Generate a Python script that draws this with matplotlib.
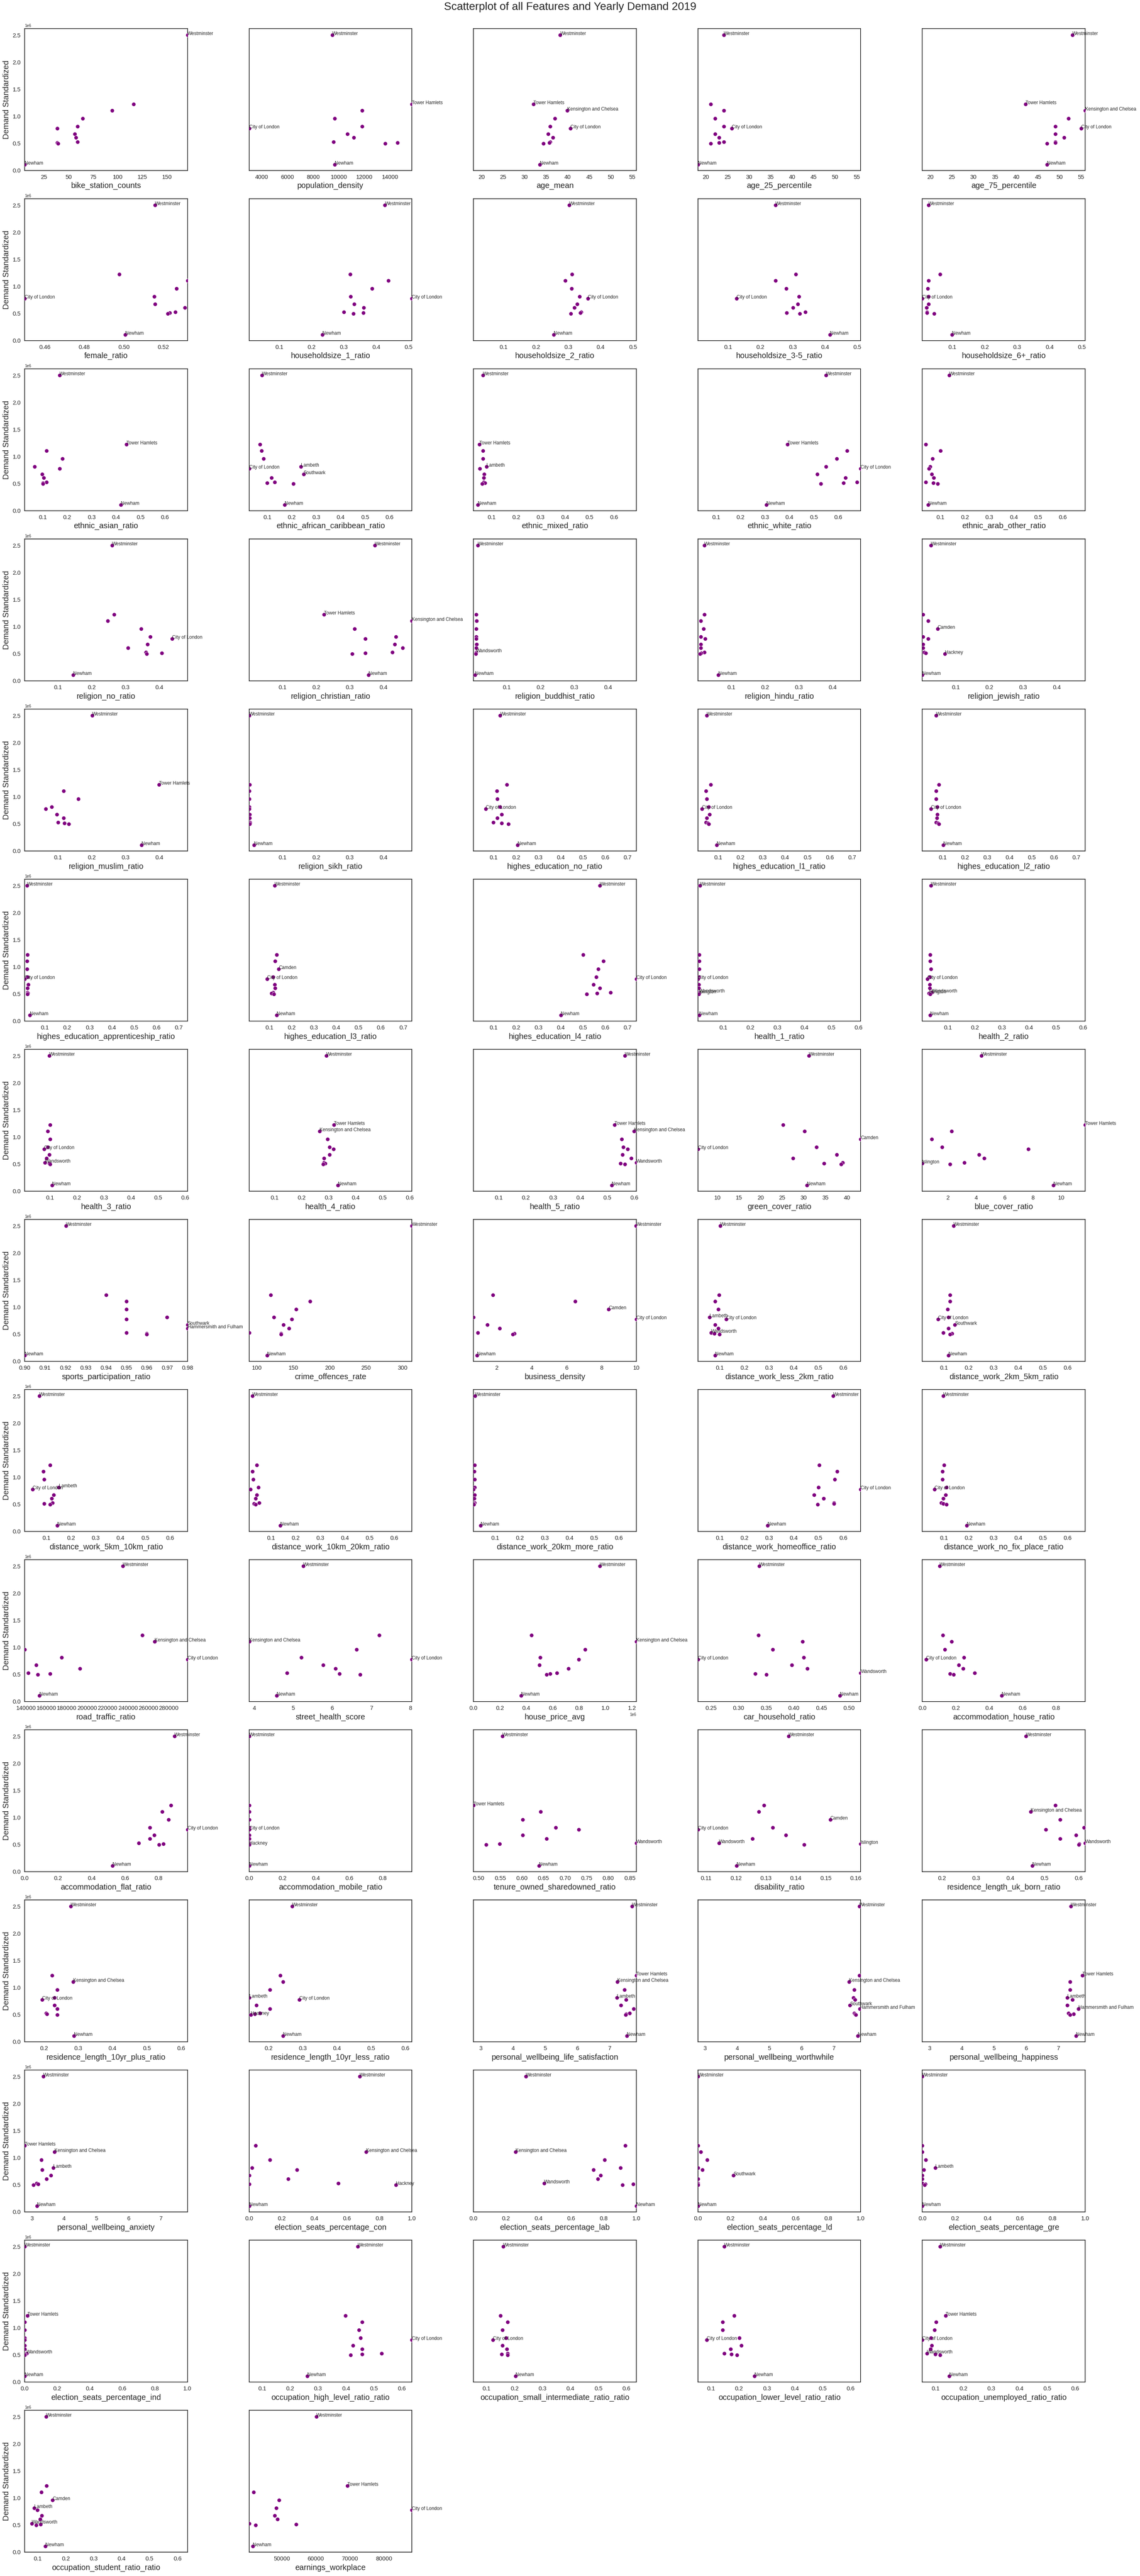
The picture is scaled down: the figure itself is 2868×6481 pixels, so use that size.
import matplotlib
matplotlib.use("Agg")
import matplotlib.pyplot as plt
import seaborn as sns
from matplotlib.ticker import MaxNLocator, MultipleLocator

# ---------------- data ----------------
boroughs = ["Westminster", "Tower Hamlets", "Kensington and Chelsea", "Camden", "Lambeth",
            "City of London", "Southwark", "Hammersmith and Fulham", "Wandsworth",
            "Islington", "Hackney", "Newham"]
demand = [2.51e6, 1.224e6, 1.113e6, 0.965e6, 0.817e6, 0.780e6, 0.674e6, 0.607e6,
          0.528e6, 0.513e6, 0.499e6, 0.111e6]

bike_station_counts = [170.7, 116.0, 94.1, 64.2, 59.0, 38.3, 56.2, 57.4, 59.0, 38.3, 39.2, 5.25]
population_density = [9508, 15678, 11801, 9674, 11801, 3031, 10667, 11163, 9579, 14567, 13598, 9697]
age_mean = [38.28, 32.05, 39.94, 37.03, 35.89, 40.66, 35.47, 36.61, 35.89, 35.70, 34.33, 33.5]
age_25_percentile = [24.17, 21.15, 24.17, 22.08, 24.17, 26.04, 22.08, 23.02, 24.17, 23.02, 21.15, 18.13]
age_75_percentile = [53.02, 42.08, 55.94, 52.08, 49.06, 55.0, 49.06, 51.04, 49.06, 49.06, 47.08, 47.08]
female_ratio = [0.5159, 0.4977, 0.5323, 0.5268, 0.5154, 0.4497, 0.5159, 0.5310, 0.5261, 0.5233, 0.5222, 0.5008]
householdsize_1_ratio = [0.4271, 0.3198, 0.4374, 0.3875, 0.3207, 0.5104, 0.3320, 0.3612, 0.300, 0.3602, 0.3292, 0.2341]
householdsize_2_ratio = [0.3028, 0.311, 0.2903, 0.3097, 0.3345, 0.3607, 0.3276, 0.3193, 0.340, 0.3372, 0.3083, 0.2545]
householdsize_3_5_ratio = [0.2466, 0.3089, 0.2466, 0.2798, 0.3199, 0.1263, 0.3158, 0.3006, 0.3393, 0.2812, 0.3213, 0.4154]
householdsize_6_ratio = [0.0264, 0.0611, 0.0264, 0.0236, 0.0264, 0.0068, 0.0264, 0.0194, 0.0208, 0.0215, 0.043, 0.0986]
ethnic_asian_ratio = [0.1685, 0.442, 0.115, 0.180, 0.067, 0.1685, 0.097, 0.103, 0.115, 0.100, 0.100, 0.4185]
ethnic_african_caribbean_ratio = [0.079, 0.070, 0.076, 0.085, 0.237, 0.0256, 0.249, 0.118, 0.130, 0.100, 0.207, 0.171]
ethnic_mixed_ratio = [0.064, 0.049, 0.064, 0.064, 0.079, 0.052, 0.070, 0.067, 0.067, 0.073, 0.061, 0.043]
ethnic_white_ratio = [0.549, 0.392, 0.636, 0.594, 0.549, 0.692, 0.514, 0.630, 0.677, 0.621, 0.529, 0.305]
ethnic_arab_other_ratio = [0.136, 0.040, 0.100, 0.067, 0.058, 0.052, 0.064, 0.073, 0.040, 0.070, 0.088, 0.049]
religion_no_ratio = [0.260, 0.266, 0.247, 0.346, 0.374, 0.438, 0.365, 0.307, 0.361, 0.408, 0.363, 0.145]
religion_christian_ratio = [0.374, 0.223, 0.484, 0.314, 0.437, 0.346, 0.433, 0.456, 0.426, 0.346, 0.307, 0.355]
religion_buddhist_ratio = [0.014, 0.009, 0.010, 0.009, 0.009, 0.009, 0.010, 0.009, 0.009, 0.008, 0.008, 0.005]
religion_hindu_ratio = [0.020, 0.020, 0.009, 0.018, 0.009, 0.022, 0.009, 0.009, 0.020, 0.011, 0.007, 0.061]
religion_jewish_ratio = [0.027, 0.003, 0.018, 0.046, 0.003, 0.018, 0.003, 0.003, 0.007, 0.011, 0.068, 0.001]
religion_muslim_ratio = [0.2015, 0.400, 0.117, 0.160, 0.081, 0.063, 0.096, 0.117, 0.100, 0.119, 0.132, 0.348]
religion_sikh_ratio = [0.001, 0.003, 0.002, 0.002, 0.002, 0.001, 0.003, 0.003, 0.004, 0.004, 0.003, 0.016]
highes_education_no_ratio = [0.129, 0.159, 0.113, 0.116, 0.129, 0.064, 0.136, 0.116, 0.097, 0.136, 0.165, 0.207]
highes_education_l1_ratio = [0.048, 0.067, 0.045, 0.048, 0.058, 0.028, 0.061, 0.048, 0.045, 0.054, 0.058, 0.093]
highes_education_l2_ratio = [0.071, 0.084, 0.071, 0.071, 0.077, 0.048, 0.077, 0.074, 0.071, 0.080, 0.084, 0.103]
highes_education_apprenticeship_ratio = [0.019, 0.022, 0.019, 0.019, 0.022, 0.009, 0.025, 0.022, 0.022, 0.023, 0.021, 0.032]
highes_education_l3_ratio = [0.123, 0.133, 0.126, 0.142, 0.116, 0.090, 0.123, 0.126, 0.116, 0.110, 0.120, 0.133]
highes_education_l4_ratio = [0.576, 0.501, 0.592, 0.569, 0.559, 0.739, 0.546, 0.576, 0.624, 0.563, 0.517, 0.400]
health_1_ratio = [0.014, 0.011, 0.011, 0.011, 0.009, 0.006, 0.009, 0.009, 0.011, 0.011, 0.009, 0.011]
health_2_ratio = [0.038, 0.035, 0.035, 0.038, 0.033, 0.025, 0.033, 0.033, 0.041, 0.030, 0.035, 0.035]
health_3_ratio = [0.097, 0.100, 0.092, 0.100, 0.092, 0.078, 0.097, 0.087, 0.081, 0.097, 0.100, 0.108]
health_4_ratio = [0.291, 0.320, 0.267, 0.296, 0.304, 0.318, 0.304, 0.283, 0.283, 0.288, 0.280, 0.334]
health_5_ratio = [0.565, 0.527, 0.600, 0.554, 0.560, 0.576, 0.557, 0.589, 0.608, 0.549, 0.565, 0.517]
green_cover_ratio = [31.2, 25.2, 30.2, 43.2, 32.9, 5.45, 37.6, 27.5, 39.0, 34.7, 38.6, 30.7]
blue_cover_ratio = [4.36, 11.69, 2.26, 0.87, 1.59, 7.69, 4.21, 4.56, 3.18, 0.205, 2.15, 9.44]
sports_participation_ratio = [0.9204, 0.940, 0.950, 0.950, 0.970, 0.950, 0.980, 0.980, 0.950, 0.960, 0.960, 0.900]
crime_offences_rate = [313, 119, 173, 154, 123, 148, 136, 144, 89, 133, 133, 114]
business_density = [9.98, 1.79, 6.5, 8.42, 0.667, 10.0, 1.46, 2.17, 0.92, 3.0, 2.92, 0.875]
distance_work_less_2km_ratio = [0.103, 0.097, 0.082, 0.094, 0.059, 0.126, 0.082, 0.094, 0.065, 0.079, 0.100, 0.082]
distance_work_2km_5km_ratio = [0.138, 0.124, 0.124, 0.115, 0.118, 0.076, 0.144, 0.118, 0.097, 0.132, 0.124, 0.118]
distance_work_5km_10km_ratio = [0.071, 0.115, 0.088, 0.091, 0.150, 0.044, 0.129, 0.121, 0.124, 0.091, 0.115, 0.144]
distance_work_10km_20km_ratio = [0.026, 0.044, 0.026, 0.029, 0.050, 0.018, 0.044, 0.038, 0.053, 0.032, 0.038, 0.138]
distance_work_20km_more_ratio = [0.018, 0.016, 0.015, 0.016, 0.017, 0.012, 0.016, 0.015, 0.016, 0.014, 0.014, 0.041]
distance_work_homeoffice_ratio = [0.559, 0.503, 0.576, 0.565, 0.500, 0.671, 0.482, 0.521, 0.562, 0.562, 0.497, 0.294]
distance_work_no_fix_place_ratio = [0.097, 0.100, 0.094, 0.094, 0.109, 0.062, 0.106, 0.097, 0.088, 0.097, 0.109, 0.191]
road_traffic_ratio = [235000, 254000, 266400, 138600, 175000, 298500, 150000, 192800, 142100, 163600, 151400, 152900]
street_health_score = [5.26, 7.20, 3.87, 6.62, 5.21, 8.04, 5.77, 6.08, 4.84, 6.19, 6.71, 4.58]
house_price_avg = [957000, 438000, 1233000, 846000, 504000, 797000, 498000, 719000, 631000, 581000, 554000, 360000]
car_household_ratio = [0.337, 0.3355, 0.4158, 0.362, 0.418, 0.2263, 0.396, 0.424, 0.521, 0.330, 0.350, 0.483]
accommodation_house_ratio = [0.104, 0.122, 0.174, 0.135, 0.248, 0.022, 0.217, 0.243, 0.313, 0.165, 0.187, 0.474]
accommodation_flat_ratio = [0.896, 0.874, 0.822, 0.861, 0.748, 0.974, 0.774, 0.748, 0.683, 0.830, 0.804, 0.526]
accommodation_mobile_ratio = [0.0003, 0.0, 0.0002, 0.0001, 0.0002, 0.0, 0.0003, 0.0002, 0.0008, 0.0002, 0.0006, 0.0002]
tenure_owned_sharedowned_ratio = [0.555, 0.488, 0.643, 0.602, 0.678, 0.732, 0.602, 0.657, 0.865, 0.549, 0.517, 0.640]
disability_ratio = [0.1376, 0.1294, 0.1277, 0.1515, 0.1323, 0.1073, 0.1367, 0.1255, 0.1144, 0.1617, 0.1428, 0.1202]
residence_length_uk_born_ratio = [0.446, 0.532, 0.460, 0.546, 0.615, 0.504, 0.592, 0.546, 0.619, 0.602, 0.600, 0.464]
residence_length_10yr_plus_ratio = [0.278, 0.223, 0.285, 0.238, 0.230, 0.194, 0.230, 0.238, 0.206, 0.208, 0.238, 0.287]
residence_length_10yr_less_ratio = [0.269, 0.234, 0.242, 0.204, 0.143, 0.290, 0.164, 0.204, 0.175, 0.160, 0.148, 0.242]
personal_wellbeing_life_satisfaction = [7.70, 7.836, 7.25, 7.47, 7.23, 7.52, 7.36, 7.75, 7.63, 7.52, 7.50, 7.54]
personal_wellbeing_worthwhile = [7.79, 7.79, 7.47, 7.63, 7.61, 7.66, 7.50, 7.81, 7.63, 7.66, 7.68, 7.75]
personal_wellbeing_happiness = [7.39, 7.75, 7.37, 7.37, 7.28, 7.44, 7.28, 7.62, 7.32, 7.48, 7.37, 7.55]
personal_wellbeing_anxiety = [3.36, 2.774, 3.70, 3.29, 3.66, 3.32, 3.59, 3.45, 3.14, 3.20, 3.05, 3.16]
election_seats_percentage_con = [0.679, 0.040, 0.719, 0.129, 0.018, 0.295, 0.0, 0.241, 0.549, 0.0, 0.902, 0.0]
election_seats_percentage_lab = [0.321, 0.933, 0.259, 0.804, 0.902, 0.737, 0.781, 0.763, 0.433, 0.982, 0.915, 1.0]
election_seats_percentage_ld = [0.0, 0.0, 0.018, 0.058, 0.0, 0.027, 0.219, 0.0, 0.0, 0.0, 0.0, 0.0]
election_seats_percentage_gre = [0.0, 0.0, 0.0, 0.022, 0.080, 0.009, 0.0, 0.0, 0.0, 0.018, 0.013, 0.0]
election_seats_percentage_ind = [0.0, 0.018, 0.0, 0.0, 0.0, 0.0, 0.0, 0.0, 0.013, 0.002, 0.0, 0.0]
occupation_high_level_ratio_ratio = [0.442, 0.398, 0.458, 0.447, 0.452, 0.636, 0.425, 0.458, 0.527, 0.458, 0.417, 0.261]
occupation_small_intermediate_ratio_ratio = [0.160, 0.149, 0.175, 0.157, 0.170, 0.123, 0.157, 0.173, 0.175, 0.154, 0.175, 0.204]
occupation_lower_level_ratio_ratio = [0.147, 0.183, 0.141, 0.141, 0.201, 0.084, 0.209, 0.170, 0.147, 0.173, 0.193, 0.255]
occupation_unemployed_ratio_ratio = [0.116, 0.136, 0.103, 0.097, 0.084, 0.053, 0.087, 0.082, 0.069, 0.100, 0.116, 0.149]
occupation_student_ratio_ratio = [0.130, 0.131, 0.113, 0.153, 0.087, 0.099, 0.114, 0.108, 0.078, 0.110, 0.095, 0.127]
earnings_workplace = [60137, 69313, 41677, 49253, 48400, 88200, 47866, 48720, 40397, 54268, 42318, 41464]

W, TH, KC, CAM, LAM, CITY, SOU, HF, WAN, ISL, HAC, NEW = boroughs

# (x-axis label, values, x-range group, extra labelled boroughs)
features = [
    ("bike_station_counts", bike_station_counts, "bike", []),
    ("population_density", population_density, "pop", [TH, CITY]),
    ("age_mean", age_mean, "age", [TH, KC, CITY]),
    ("age_25_percentile", age_25_percentile, "age", [CITY]),
    ("age_75_percentile", age_75_percentile, "age", [TH, KC, CITY]),
    ("female_ratio", female_ratio, "female", [CITY]),
    ("householdsize_1_ratio", householdsize_1_ratio, "hh", [CITY]),
    ("householdsize_2_ratio", householdsize_2_ratio, "hh", [CITY]),
    ("householdsize_3-5_ratio", householdsize_3_5_ratio, "hh", [CITY]),
    ("householdsize_6+_ratio", householdsize_6_ratio, "hh", [CITY]),
    ("ethnic_asian_ratio", ethnic_asian_ratio, "eth", [TH]),
    ("ethnic_african_caribbean_ratio", ethnic_african_caribbean_ratio, "eth", [CITY, LAM, SOU]),
    ("ethnic_mixed_ratio", ethnic_mixed_ratio, "eth", [TH, LAM]),
    ("ethnic_white_ratio", ethnic_white_ratio, "eth", [TH, CITY]),
    ("ethnic_arab_other_ratio", ethnic_arab_other_ratio, "eth", []),
    ("religion_no_ratio", religion_no_ratio, "rel", [CITY]),
    ("religion_christian_ratio", religion_christian_ratio, "rel", [TH, KC]),
    ("religion_buddhist_ratio", religion_buddhist_ratio, "rel", [WAN]),
    ("religion_hindu_ratio", religion_hindu_ratio, "rel", []),
    ("religion_jewish_ratio", religion_jewish_ratio, "rel", [CAM, HAC]),
    ("religion_muslim_ratio", religion_muslim_ratio, "rel", [TH]),
    ("religion_sikh_ratio", religion_sikh_ratio, "rel", []),
    ("highes_education_no_ratio", highes_education_no_ratio, "edu", [CITY]),
    ("highes_education_l1_ratio", highes_education_l1_ratio, "edu", [CITY]),
    ("highes_education_l2_ratio", highes_education_l2_ratio, "edu", [CITY]),
    ("highes_education_apprenticeship_ratio", highes_education_apprenticeship_ratio, "edu", [CITY]),
    ("highes_education_l3_ratio", highes_education_l3_ratio, "edu", [CAM, CITY]),
    ("highes_education_l4_ratio", highes_education_l4_ratio, "edu", [CITY]),
    ("health_1_ratio", health_1_ratio, "health", [CITY, WAN, ISL]),
    ("health_2_ratio", health_2_ratio, "health", [CITY, WAN, ISL]),
    ("health_3_ratio", health_3_ratio, "health", [CITY, WAN]),
    ("health_4_ratio", health_4_ratio, "health", [TH, KC]),
    ("health_5_ratio", health_5_ratio, "health", [TH, KC, WAN]),
    ("green_cover_ratio", green_cover_ratio, "green", [CITY, CAM]),
    ("blue_cover_ratio", blue_cover_ratio, "blue", [TH, ISL]),
    ("sports_participation_ratio", sports_participation_ratio, "sports", [SOU, HF]),
    ("crime_offences_rate", crime_offences_rate, "crime", []),
    ("business_density", business_density, "business", [CAM, CITY]),
    ("distance_work_less_2km_ratio", distance_work_less_2km_ratio, "dist", [LAM, CITY, WAN]),
    ("distance_work_2km_5km_ratio", distance_work_2km_5km_ratio, "dist", [CITY, SOU]),
    ("distance_work_5km_10km_ratio", distance_work_5km_10km_ratio, "dist", [CITY, LAM]),
    ("distance_work_10km_20km_ratio", distance_work_10km_20km_ratio, "dist", []),
    ("distance_work_20km_more_ratio", distance_work_20km_more_ratio, "dist", []),
    ("distance_work_homeoffice_ratio", distance_work_homeoffice_ratio, "dist", [CITY]),
    ("distance_work_no_fix_place_ratio", distance_work_no_fix_place_ratio, "dist", [CITY]),
    ("road_traffic_ratio", road_traffic_ratio, "road", [KC, CITY]),
    ("street_health_score", street_health_score, "street", [KC, CITY]),
    ("house_price_avg", house_price_avg, "house", [KC]),
    ("car_household_ratio", car_household_ratio, "car", [CITY, WAN]),
    ("accommodation_house_ratio", accommodation_house_ratio, "acc", [CITY]),
    ("accommodation_flat_ratio", accommodation_flat_ratio, "acc", [CITY]),
    ("accommodation_mobile_ratio", accommodation_mobile_ratio, "acc", [CITY, HAC]),
    ("tenure_owned_sharedowned_ratio", tenure_owned_sharedowned_ratio, "tenure", [TH, WAN]),
    ("disability_ratio", disability_ratio, "disab", [CITY, CAM, WAN, ISL]),
    ("residence_length_uk_born_ratio", residence_length_uk_born_ratio, "res", [KC, WAN]),
    ("residence_length_10yr_plus_ratio", residence_length_10yr_plus_ratio, "res", [KC, CITY]),
    ("residence_length_10yr_less_ratio", residence_length_10yr_less_ratio, "res", [LAM, CITY, HAC]),
    ("personal_wellbeing_life_satisfaction", personal_wellbeing_life_satisfaction, "well", [TH, KC, LAM]),
    ("personal_wellbeing_worthwhile", personal_wellbeing_worthwhile, "well", [KC, SOU, HF]),
    ("personal_wellbeing_happiness", personal_wellbeing_happiness, "well", [TH, LAM, HF]),
    ("personal_wellbeing_anxiety", personal_wellbeing_anxiety, "well", [TH, KC, LAM]),
    ("election_seats_percentage_con", election_seats_percentage_con, "elec", [KC, HAC]),
    ("election_seats_percentage_lab", election_seats_percentage_lab, "elec", [KC, WAN]),
    ("election_seats_percentage_ld", election_seats_percentage_ld, "elec", [SOU]),
    ("election_seats_percentage_gre", election_seats_percentage_gre, "elec", [LAM]),
    ("election_seats_percentage_ind", election_seats_percentage_ind, "elec", [TH, WAN]),
    ("occupation_high_level_ratio_ratio", occupation_high_level_ratio_ratio, "occ", [CITY]),
    ("occupation_small_intermediate_ratio_ratio", occupation_small_intermediate_ratio_ratio, "occ", [CITY]),
    ("occupation_lower_level_ratio_ratio", occupation_lower_level_ratio_ratio, "occ", [CITY]),
    ("occupation_unemployed_ratio_ratio", occupation_unemployed_ratio_ratio, "occ", [TH, CITY, WAN]),
    ("occupation_student_ratio_ratio", occupation_student_ratio_ratio, "occ", [CAM, LAM, WAN]),
    ("earnings_workplace", earnings_workplace, "earn", [TH, CITY]),
]
always_labelled = [W, NEW]
zero_left_groups = ["house"]
title = "Scatterplot of all Features and Yearly Demand 2019"
ylabel = "Demand Standardized"

# ---------------- style ----------------
sns.set_style("white")
plt.rcParams["font.family"] = ["Liberation Sans", "DejaVu Sans"]
plt.rcParams["text.color"] = ".15"
plt.rcParams["axes.labelcolor"] = ".15"
plt.rcParams["xtick.color"] = ".15"
plt.rcParams["ytick.color"] = ".15"
plt.rcParams["axes.edgecolor"] = ".15"
plt.rcParams["axes.linewidth"] = 1.25

# group ranges
group_lims = {}
for name, vals, grp, _ in features:
    lo, hi = group_lims.get(grp, (min(vals), max(vals)))
    group_lims[grp] = (min(lo, min(vals)), max(hi, max(vals)))
for g in zero_left_groups:
    group_lims[g] = (0, group_lims[g][1])

nrows, ncols = 15, 5
fig, axes = plt.subplots(nrows, ncols, figsize=(28.68, 64.81), dpi=100, sharey=True)
fig.subplots_adjust(left=0.0216, right=0.9519, top=0.98889, bottom=0.00926,
                    wspace=0.378, hspace=0.199)

for i, (name, vals, grp, extra) in enumerate(features):
    ax = axes.flat[i]
    ax.scatter(vals, demand, s=52, color="purple", edgecolor="white", linewidth=0.5, zorder=3)
    show = set(always_labelled) | set(extra)
    for b, xv, yv in zip(boroughs, vals, demand):
        if b in show:
            ax.text(xv, yv, b, fontsize=8.5, color=".15", zorder=4)
    ax.set_xlim(*group_lims[grp])
    ax.xaxis.set_major_locator(MaxNLocator(nbins=8, steps=[1, 2, 2.5, 5, 10]))
    ax.set_xlabel(name, fontsize=14.3)
    ax.tick_params(axis="both", labelsize=10.6, length=0, pad=7)
    ax.xaxis.get_offset_text().set_fontsize(7)
    ax.yaxis.get_offset_text().set_fontsize(7)
    for sp in ax.spines.values():
        sp.set_visible(True)

axes[0, 0].set_ylim(0, 2.624e6)
axes[0, 0].yaxis.set_major_locator(MultipleLocator(0.5e6))
for r in range(nrows):
    axes[r, 0].set_ylabel(ylabel, fontsize=14.3)

for ax in axes.flat[len(features):]:
    ax.remove()

fig.suptitle(title, fontsize=20, y=0.99722, va="center", color=".15")
fig.savefig("out.png", dpi=100)
